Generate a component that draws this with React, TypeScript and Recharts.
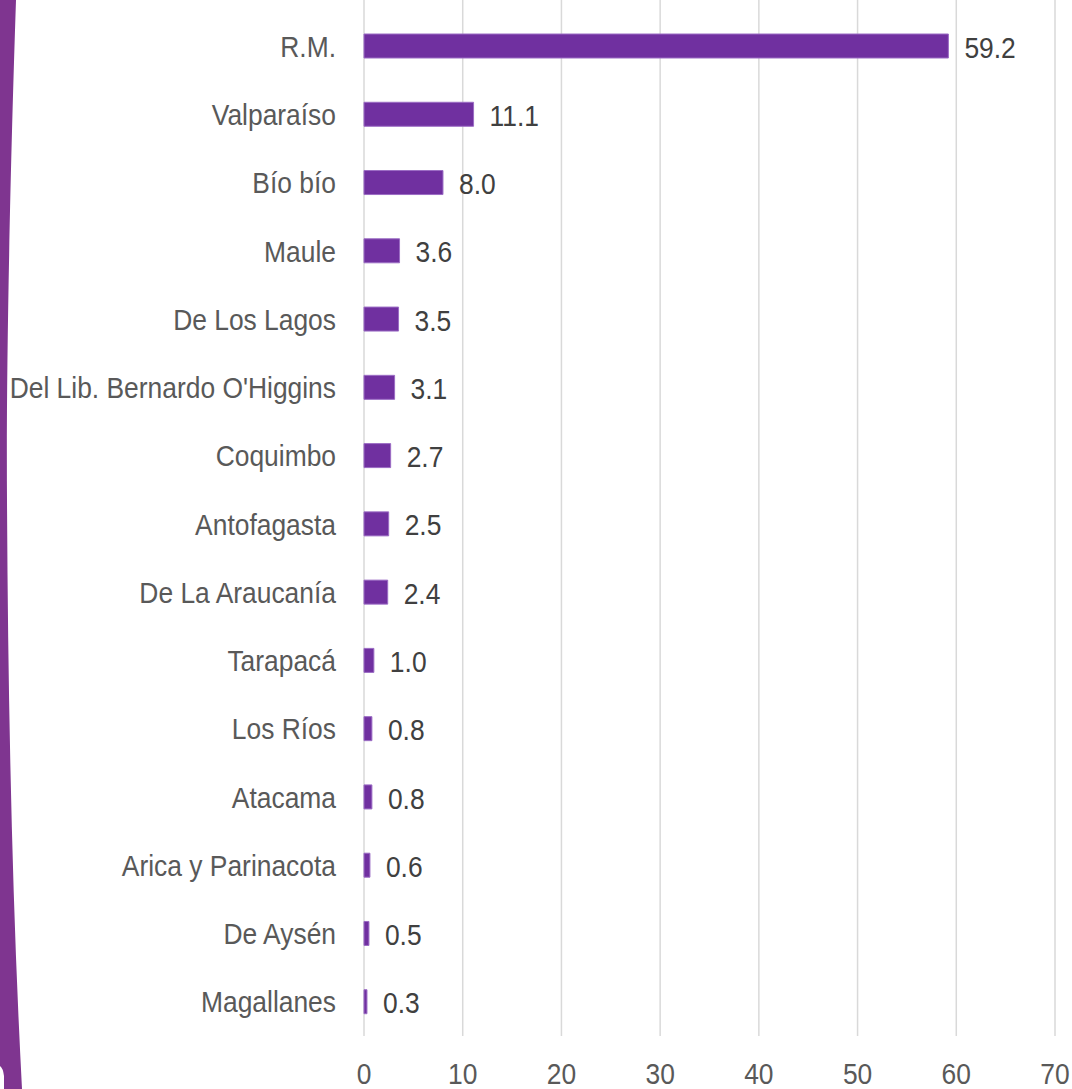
import { BarChart, Bar, XAxis, YAxis, CartesianGrid, LabelList } from "recharts";

const regions = [
  "R.M.",
  "Valparaíso",
  "Bío bío",
  "Maule",
  "De Los Lagos",
  "Del Lib. Bernardo O'Higgins",
  "Coquimbo",
  "Antofagasta",
  "De La Araucanía",
  "Tarapacá",
  "Los Ríos",
  "Atacama",
  "Arica y Parinacota",
  "De Aysén",
  "Magallanes",
];
const shares = [59.2, 11.1, 8.0, 3.6, 3.5, 3.1, 2.7, 2.5, 2.4, 1.0, 0.8, 0.8, 0.6, 0.5, 0.3];
const xTicks = [0, 10, 20, 30, 40, 50, 60, 70];

const data = regions.map((region, i) => ({ region, value: shares[i] }));

// no Arial Narrow here: squeeze Liberation Sans instead
const FONT = "'Liberation Sans', Arial, sans-serif";
const SQUEEZE = 0.88;

function YTick({ x, y, payload }: any) {
  return (
    <text
      transform={`translate(${x},${y}) scale(${SQUEEZE},1)`}
      textAnchor="end"
      dominantBaseline="central"
      fill="#595959"
      fontSize={30}
      fontFamily={FONT}
    >
      {payload.value}
    </text>
  );
}

function XTick({ x, y, payload }: any) {
  return (
    <text
      transform={`translate(${x},${y}) scale(${SQUEEZE},1)`}
      textAnchor="middle"
      dy={21}
      fill="#595959"
      fontSize={30}
      fontFamily={FONT}
    >
      {payload.value}
    </text>
  );
}

function ValueLabel({ x, y, width, height, value }: any) {
  return (
    <text
      transform={`translate(${x + width + 16},${y + height / 2 + 1}) scale(${SQUEEZE},1)`}
      textAnchor="start"
      dominantBaseline="central"
      fill="#404040"
      fontSize={30}
      fontFamily={FONT}
    >
      {Number(value).toFixed(1)}
    </text>
  );
}

export default function App() {
  return (
    <div style={{ position: "absolute", top: 0, left: 0, width: 1072, height: 1089, background: "#fff" }}>
      <svg width={30} height={1089} style={{ position: "absolute", top: 0, left: 0 }}>
        <path d="M0,0 L16,0 C11,150 6,350 7,500 C8,700 12,900 22,1089 L4,1089 L4,1076 Q3,1068 0,1066 Z" fill="#7F3590" />
      </svg>
      <BarChart
        width={1072}
        height={1089}
        data={data}
        layout="vertical"
        margin={{ top: 0, right: 17, left: 0, bottom: 0 }}
        style={{ position: "absolute", top: 0, left: 0 }}
      >
        <CartesianGrid stroke="#D9D9D9" strokeWidth={1.5} horizontal={false} />
        <XAxis
          type="number"
          domain={[0, 70]}
          ticks={xTicks}
          axisLine={false}
          tickLine={false}
          tickSize={0}
          tickMargin={27}
          height={53}
          tick={<XTick />}
        />
        <YAxis
          type="category"
          dataKey="region"
          width={364}
          axisLine={false}
          tickLine={false}
          tickSize={0}
          tickMargin={28}
          padding={{ top: 12, bottom: 0 }}
          interval={0}
          tick={<YTick />}
        />
        <Bar dataKey="value" fill="#7030A0" stroke="#9B6CC4" strokeWidth={1} barSize={24} isAnimationActive={false}>
          <LabelList dataKey="value" content={<ValueLabel />} />
        </Bar>
      </BarChart>
    </div>
  );
}
